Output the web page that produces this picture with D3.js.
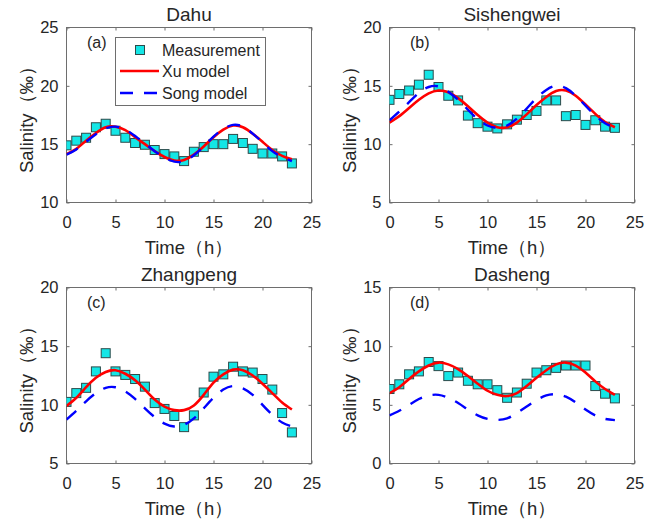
<!DOCTYPE html>
<html>
<head>
<meta charset="utf-8">
<script src="https://cdn.jsdelivr.net/npm/d3@7/dist/d3.min.js"></script>
<style>
  html, body { margin: 0; padding: 0; background: #fff; }
  svg { display: block; }
  text { font-family: "Liberation Sans", Arial, Helvetica, sans-serif; fill: #262626; }
</style>
</head>
<body>
<svg id="chart" width="655" height="521"></svg>
<script>
// ---------------- DATA ----------------
const hours = d3.range(0, 24);
const xTicks = [0, 5, 10, 15, 20, 25];

const stations = ["Dahu", "Sishengwei", "Zhangpeng", "Dasheng"];
const panelTags = ["(a)", "(b)", "(c)", "(d)"];
const yDomains = [[10, 25], [5, 20], [5, 20], [0, 15]];
const yTicksList = [[10, 15, 20, 25], [5, 10, 15, 20], [5, 10, 15, 20], [0, 5, 10, 15]];

const measDahu = [14.9, 15.3, 15.55, 16.45, 16.75, 16.15, 15.55, 15.1, 14.95, 14.5, 14.15, 13.95, 13.55, 14.35, 14.75, 15.0, 15.0, 15.45, 15.1, 14.6, 14.2, 14.2, 13.95, 13.35];
const xuDahu   = [14.15, 14.6, 15.3, 15.95, 16.45, 16.5, 16.2, 15.6, 15.0, 14.4, 13.9, 13.6, 13.65, 14.1, 14.8, 15.6, 16.25, 16.6, 16.45, 15.9, 15.2, 14.5, 14.0, 13.7];
const songDahu = [14.1, 14.55, 15.2, 15.85, 16.35, 16.5, 16.25, 15.7, 15.05, 14.4, 13.85, 13.5, 13.55, 14.05, 14.8, 15.65, 16.3, 16.65, 16.5, 15.9, 15.15, 14.4, 13.9, 13.55];

const measSish = [13.8, 14.3, 14.6, 15.1, 15.95, 14.9, 14.15, 13.75, 12.45, 11.8, 11.5, 11.35, 11.7, 12.1, 12.5, 12.85, 13.75, 13.75, 12.4, 12.5, 11.65, 12.05, 11.5, 11.4];
const xuSish   = [11.85, 12.4, 13.1, 13.8, 14.35, 14.6, 14.45, 13.95, 13.25, 12.5, 11.85, 11.45, 11.45, 11.85, 12.55, 13.35, 14.05, 14.55, 14.6, 14.15, 13.4, 12.6, 11.9, 11.45];
const songSish = [12.05, 12.8, 13.6, 14.4, 14.9, 14.95, 14.5, 13.8, 12.95, 12.15, 11.6, 11.4, 11.6, 12.2, 13.05, 13.95, 14.65, 15.0, 14.8, 14.15, 13.3, 12.45, 11.8, 11.4];

const measZhang = [10.25, 11.0, 11.45, 12.85, 14.4, 12.85, 12.55, 12.2, 11.55, 10.15, 9.65, 9.05, 8.1, 9.1, 11.05, 12.4, 12.6, 13.25, 12.85, 12.75, 12.2, 11.3, 9.3, 7.65];
const xuZhang   = [9.9, 10.6, 11.5, 12.3, 12.8, 12.95, 12.65, 12.1, 11.3, 10.45, 9.85, 9.55, 9.55, 9.95, 10.85, 11.9, 12.6, 13.0, 12.95, 12.5, 11.8, 11.0, 10.2, 9.6];
const songZhang = [8.75, 9.5, 10.3, 11.0, 11.45, 11.5, 11.15, 10.5, 9.7, 8.95, 8.4, 8.15, 8.3, 8.85, 9.7, 10.6, 11.3, 11.6, 11.4, 10.85, 10.0, 9.15, 8.5, 8.15];

const measDash = [6.35, 6.75, 7.6, 7.85, 8.65, 8.3, 7.45, 7.75, 7.05, 6.75, 6.75, 6.25, 5.6, 6.05, 6.8, 7.75, 7.95, 8.15, 8.35, 8.35, 8.35, 6.6, 5.95, 5.55];
const xuDash   = [6.0, 6.5, 7.2, 7.85, 8.35, 8.6, 8.45, 8.05, 7.45, 6.8, 6.2, 5.85, 5.75, 6.0, 6.6, 7.3, 7.95, 8.45, 8.6, 8.35, 7.75, 7.0, 6.35, 5.85];
const songDash = [4.1, 4.5, 5.0, 5.5, 5.8, 5.85, 5.6, 5.15, 4.6, 4.1, 3.8, 3.72, 3.85, 4.3, 4.85, 5.4, 5.8, 5.9, 5.7, 5.2, 4.6, 4.1, 3.8, 3.7];

const measurements = [measDahu, measSish, measZhang, measDash];
const xuModels = [xuDahu, xuSish, xuZhang, xuDash];
const songModels = [songDahu, songSish, songZhang, songDash];

const legendLabels = ["Measurement", "Xu model", "Song model"];
const xLabel = "Time\uFF08h\uFF09";
const yLabel = "Salinity\uFF08\u2030\uFF09";

// ---------------- LAYOUT ----------------
const panels = [
  { left: 66.5, top: 27.5, right: 311.5, bottom: 202.5 },
  { left: 389.5, top: 27.5, right: 634.5, bottom: 202.5 },
  { left: 66.5, top: 287.5, right: 311.5, bottom: 463.5 },
  { left: 389.5, top: 287.5, right: 634.5, bottom: 463.5 }
];

const COLOR_TEXT = "#262626";
const COLOR_AXIS = "#6e6e6e";
const MARKER_FILL = "#14e6e6";
const MARKER_EDGE = "#2d4a4a";
const RED = "#ff0000";
const BLUE = "#0000ff";
const DASH = "13,11";
const MS = 9;   // marker size

const svg = d3.select("#chart");

panels.forEach((p, i) => {
  const g = svg.append("g");
  const x = d3.scaleLinear().domain([0, 25]).range([p.left, p.right]);
  const y = d3.scaleLinear().domain(yDomains[i]).range([p.bottom, p.top]);

  // clip
  const clipId = "clip" + i;
  svg.append("clipPath").attr("id", clipId).append("rect")
    .attr("x", p.left).attr("y", p.top)
    .attr("width", p.right - p.left).attr("height", p.bottom - p.top);

  // axes (inward ticks, box)
  const tl = 3;
  const xb = g.append("g").attr("transform", `translate(0,${p.bottom})`)
    .call(d3.axisBottom(x).tickValues(xTicks).tickSizeInner(-tl).tickSizeOuter(0).tickPadding(14));
  const xt = g.append("g").attr("transform", `translate(0,${p.top})`)
    .call(d3.axisTop(x).tickValues(xTicks).tickSizeInner(-tl).tickSizeOuter(0).tickFormat(""));
  const yl = g.append("g").attr("transform", `translate(${p.left},0)`)
    .call(d3.axisLeft(y).tickValues(yTicksList[i]).tickSizeInner(-tl).tickSizeOuter(0).tickPadding(8));
  const yr = g.append("g").attr("transform", `translate(${p.right},0)`)
    .call(d3.axisRight(y).tickValues(yTicksList[i]).tickSizeInner(-tl).tickSizeOuter(0).tickFormat(""));
  [xb, xt, yl, yr].forEach(a => {
    a.select(".domain").remove();
    a.selectAll(".tick line").attr("stroke", COLOR_AXIS);
    a.selectAll(".tick text").attr("fill", COLOR_TEXT)
      .style("font-family", '"Liberation Sans", Arial, sans-serif')
      .style("font-size", "16.5px");
  });
  g.append("rect")
    .attr("x", p.left).attr("y", p.top)
    .attr("width", p.right - p.left).attr("height", p.bottom - p.top)
    .attr("fill", "none").attr("stroke", COLOR_AXIS).attr("stroke-width", 1);

  // data
  const plot = g.append("g").attr("clip-path", `url(#${clipId})`);
  const line = d3.line().x((d, k) => x(hours[k])).y(d => y(d)).curve(d3.curveNatural);

  plot.selectAll("rect.m").data(measurements[i]).enter().append("rect")
    .attr("class", "m")
    .attr("x", (d, k) => x(hours[k]) - MS / 2)
    .attr("y", d => y(d) - MS / 2)
    .attr("width", MS).attr("height", MS)
    .attr("fill", MARKER_FILL).attr("stroke", MARKER_EDGE).attr("stroke-width", 1);

  plot.append("path").datum(xuModels[i])
    .attr("d", line).attr("fill", "none")
    .attr("stroke", RED).attr("stroke-width", 2.6);

  plot.append("path").datum(songModels[i])
    .attr("d", line).attr("fill", "none")
    .attr("stroke", BLUE).attr("stroke-width", 2.4)
    .attr("stroke-dasharray", DASH);

  // title
  g.append("text")
    .attr("x", (p.left + p.right) / 2).attr("y", p.top - 7)
    .attr("text-anchor", "middle").style("font-size", "19px")
    .text(stations[i]);

  // panel tag
  g.append("text")
    .attr("x", p.left + 20.5).attr("y", p.top + 20.5)
    .style("font-size", "16px")
    .text(panelTags[i]);

  // x label
  g.append("text")
    .attr("x", (p.left + p.right) / 2).attr("y", p.bottom + 51)
    .attr("text-anchor", "middle").style("font-size", "18.5px")
    .text(xLabel);

  // y label
  const cy = (p.top + p.bottom) / 2;
  const lx = p.left - 34;
  g.append("text")
    .attr("transform", `translate(${lx},${cy}) rotate(-90)`)
    .attr("text-anchor", "middle").style("font-size", "18.5px")
    .text(yLabel);

  // legend only in first panel
  if (i === 0) {
    const lg = g.append("g");
    lg.append("rect")
      .attr("x", 115.5).attr("y", 37.5).attr("width", 150).attr("height", 68)
      .attr("fill", "#fff").attr("stroke", COLOR_AXIS).attr("stroke-width", 1);
    lg.append("rect")
      .attr("x", 140 - MS / 2).attr("y", 50 - MS / 2).attr("width", MS).attr("height", MS)
      .attr("fill", MARKER_FILL).attr("stroke", MARKER_EDGE).attr("stroke-width", 1);
    lg.append("line").attr("x1", 120).attr("x2", 159).attr("y1", 71).attr("y2", 71)
      .attr("stroke", RED).attr("stroke-width", 2.6);
    lg.append("line").attr("x1", 120).attr("x2", 159).attr("y1", 93).attr("y2", 93)
      .attr("stroke", BLUE).attr("stroke-width", 2.4).attr("stroke-dasharray", DASH);
    const ys = [56, 77, 98.5];
    legendLabels.forEach((t, k) => {
      lg.append("text").attr("x", 162).attr("y", ys[k]).style("font-size", "16px").text(t);
    });
  }
});
</script>
</body>
</html>
